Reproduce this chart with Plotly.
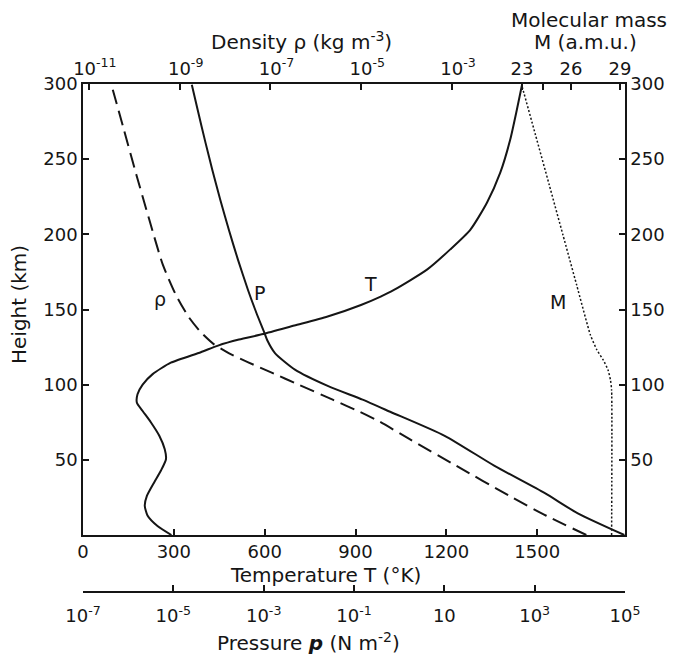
import plotly.graph_objects as go

# ---------------- data ----------------
# Temperature profile T (K) versus height (km)
temp_height = [0, 6, 13, 19.5, 26, 35, 42.7, 50.4, 57, 66, 75, 82.5, 88, 93.6, 100, 107,
               114.6, 121.6, 126, 130, 133.7, 139.3, 145.3, 153, 158.6, 163, 176.5, 190,
               203, 221, 241, 263, 283, 299.5]
temp_K = [292, 246, 213, 204, 211, 235, 257, 274, 270, 252, 224, 197, 178, 180, 197, 230,
          290, 389, 446, 515, 595, 698, 808, 918, 983, 1027, 1136, 1213,
          1279, 1334, 1378, 1411, 1433, 1450]

# Pressure p (N m^-2), stored as log10, versus height (km)
pres_height = [0, 14.4, 28, 46, 66, 82, 90, 99, 110, 121, 129.7, 134, 148, 163, 183,
               203, 223, 243, 261, 283, 299.5]
pres_log10 = [4.985, 3.955, 3.217, 2.112, 1.007, -0.2, -0.81, -1.57, -2.308, -2.75,
              -2.923, -2.978, -3.164, -3.347, -3.568, -3.771, -3.961, -4.138, -4.288,
              -4.463, -4.591]

# Density rho (kg m^-3), stored as log10, versus height (km)
dens_height = [0, 12.8, 26, 46, 63.7, 75.4, 82, 90, 100, 108, 115, 121, 127, 135, 145,
               160, 180, 210, 240, 270, 299.5]
dens_log10 = [-0.042, -0.923, -1.738, -2.905, -3.934, -4.595, -5.035, -5.63, -6.379,
              -6.974, -7.502, -7.921, -8.251, -8.537, -8.802, -9.088, -9.374, -9.672,
              -9.958, -10.233, -10.504]

# Molecular mass M (a.m.u.) versus height (km)
mass_height = [0, 96.5, 103.1, 109.8, 116.4, 123.1, 133.1, 166.3, 199.6, 232.9, 266.1,
               299.5]
mass_amu = [28.49, 28.49, 28.42, 28.27, 27.98, 27.59, 27.19, 26.35, 25.51, 24.67, 23.83,
            22.98]

# tick values / labels
temp_ticks = [0, 300, 600, 900, 1200, 1500]
height_ticks = [50, 100, 150, 200, 250, 300]
dens_tickvals = [1e-11, 1e-9, 1e-7, 1e-5, 1e-3, 1e-1]
dens_ticktext = ["10<sup>-11</sup>", "10<sup>-9</sup>", "10<sup>-7</sup>",
                 "10<sup>-5</sup>", "10<sup>-3</sup>", ""]
mass_ticks = [23, 26, 29]
pres_tickvals = [1e-7, 1e-5, 1e-3, 1e-1, 1e1, 1e3, 1e5]
pres_ticktext = ["10<sup>-7</sup>", "10<sup>-5</sup>", "10<sup>-3</sup>", "10<sup>-1</sup>",
                 "10", "10<sup>3</sup>", "10<sup>5</sup>"]

# curve labels: (text, temperature-axis x, height)
curve_labels = [("ρ", 253, 157), ("P", 582, 161), ("T", 950, 167), ("M", 1569, 155)]

# ---------------- figure ----------------
INK = "#151515"
FONT = "DejaVu Sans"
PAGE_OFFSET = 8   # default body margin of the html page

fig = go.Figure()

fig.add_trace(go.Scatter(x=temp_K, y=temp_height, mode="lines", xaxis="x", yaxis="y",
                         line=dict(color=INK, width=2, shape="spline", smoothing=0.6),
                         showlegend=False, hoverinfo="skip"))
fig.add_trace(go.Scatter(x=[10 ** v for v in pres_log10], y=pres_height, mode="lines",
                         xaxis="x4", yaxis="y",
                         line=dict(color=INK, width=2, shape="spline", smoothing=0.6),
                         showlegend=False, hoverinfo="skip"))
fig.add_trace(go.Scatter(x=[10 ** v for v in dens_log10], y=dens_height, mode="lines",
                         xaxis="x2", yaxis="y",
                         line=dict(color=INK, width=2, dash="15px,7px", shape="spline",
                                   smoothing=0.6),
                         showlegend=False, hoverinfo="skip"))
fig.add_trace(go.Scatter(x=mass_amu, y=mass_height, mode="lines", xaxis="x3", yaxis="y2",
                         line=dict(color=INK, width=1.5, dash="2px,2px", shape="spline",
                                   smoothing=0.5),
                         showlegend=False, hoverinfo="skip"))

tickfont = dict(family=FONT, size=18, color=INK)
common = dict(showgrid=False, zeroline=False, showline=True, linecolor=INK, linewidth=1.5,
              ticks="inside", ticklen=6, tickwidth=1.5, tickcolor=INK, tickfont=tickfont)

Y0 = 0.1122

fig.update_layout(
    width=675 - PAGE_OFFSET, height=660 - PAGE_OFFSET,
    margin=dict(l=83 - PAGE_OFFSET, r=50, t=84 - PAGE_OFFSET, b=68, autoexpand=False),
    paper_bgcolor="white", plot_bgcolor="white",
    font=dict(family=FONT, size=18, color=INK),
    xaxis=dict(range=[0, 1790], domain=[0, 1], anchor="y", side="bottom",
               tickmode="array", tickvals=temp_ticks, **common),
    yaxis=dict(range=[0, 300], domain=[Y0, 1], anchor="x", side="left",
               tickmode="array", tickvals=height_ticks, **common),
    yaxis2=dict(range=[0, 300], domain=[Y0, 1], anchor="x", side="right", overlaying="y",
                tickmode="array", tickvals=height_ticks, **common),
    xaxis2=dict(type="log", range=[-11.13, 0.81], overlaying="x", anchor="y", side="top",
                tickmode="array", tickvals=dens_tickvals, ticktext=dens_ticktext,
                ticklabelshift=6, **common),
    xaxis3=dict(range=[-3.88, 29.31], overlaying="x", anchor="y", side="top",
                tickmode="array", tickvals=mass_ticks, **common),
    xaxis4=dict(type="log", range=[-7, 5], overlaying="x", anchor="free", position=0,
                side="bottom", tickmode="array", tickvals=pres_tickvals,
                ticktext=pres_ticktext, ticklabelstandoff=8, **common),
)

annotations = []
for txt, xv, hv in curve_labels:
    annotations.append(dict(text=txt, x=xv, y=hv, xref="x", yref="y", showarrow=False,
                            font=dict(family=FONT, size=19, color=INK)))


def paper_x(px):
    return (px - 83) / 542.0


def paper_y(py):
    return (592 - py) / 508.0


titles = [
    ("Density ρ (kg m<sup>-3</sup>)", 301, 41, 0),
    ("Molecular mass", 589, 20, 0),
    ("M (a.m.u.)", 585, 42, 0),
    ("Temperature T (°K)", 325, 575, 0),
    ("Pressure <b><i>p</i></b> (N m<sup>-2</sup>)", 308, 642, 0),
    ("Height (km)", 19, 305, -90),
]
for txt, px, py, ang in titles:
    annotations.append(dict(text=txt, x=paper_x(px), y=paper_y(py), xref="paper",
                            yref="paper", showarrow=False, textangle=ang,
                            xanchor="center", yanchor="middle",
                            font=dict(family=FONT, size=20, color=INK)))

fig.update_layout(annotations=annotations)

fig.write_html("out.html")
